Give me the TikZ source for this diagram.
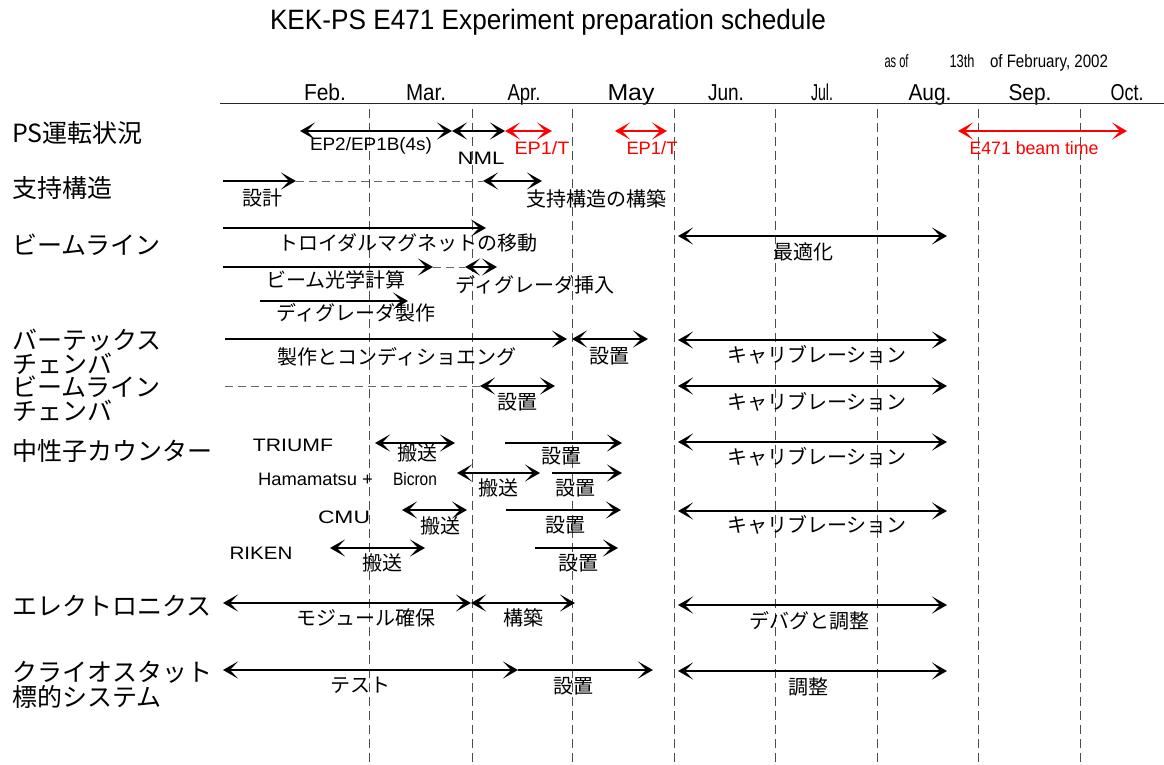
\documentclass[tikz,border=0pt]{standalone}
\usepackage{fontspec}
\setmainfont{Liberation Sans}
\newfontfamily\jpfont{Noto Sans CJK JP}
\usetikzlibrary{arrows.meta}
\newcommand\fitw[2]{\resizebox{#1pt}{\height}{#2}}
\newcommand\seg[5]{\coordinate (#1a) at (#2,#4); \coordinate (#1b) at (#3,#4); \draw[#5] (#1a) -- (#1b);}
\tikzset{
  >={Stealth[length=15pt,width=17pt,inset=8pt]},
  arr/.style={line width=2pt, ->},
  darr/.style={line width=2pt, <->},
  gdash/.style={draw=black!60, line width=1pt, dash pattern=on 8pt off 5pt},
  vline/.style={draw=black!70, line width=1pt, dash pattern=on 9pt off 5pt},
  jl/.style={font=\jpfont\fontsize{20}{22}\selectfont, inner sep=0pt},
  rowlbl/.style={font=\jpfont\fontsize{25}{27}\selectfont, inner sep=0pt, anchor=west},
  lt/.style={font=\fontsize{18}{20}\selectfont, inner sep=0pt},
  mon/.style={font=\fontsize{23}{25}\selectfont, inner sep=0pt, anchor=base},
  dt/.style={font=\fontsize{18}{20}\selectfont, inner sep=0pt, anchor=base},
}
\begin{document}
\begin{tikzpicture}[x=1pt,y=-1pt]
\useasboundingbox[fill=white] (0,0) rectangle (1164,765);
% title and date
\node[font=\fontsize{28}{30}\selectfont, inner sep=0pt] (title) at (548,22) {\fitw{556}{KEK-PS E471 Experiment preparation schedule}};
\node[dt] (asof1) at (896.5,68) {\fitw{24}{as of}};
\node[dt] (asof2) at (962,68) {\fitw{25}{13th}};
\node[dt] (asof3) at (1049,68) {\fitw{118}{of February, 2002}};
% months
\node[mon] (feb) at (325,101) {\fitw{42}{Feb.}};
\node[mon] (mar) at (426,101) {\fitw{40}{Mar.}};
\node[mon] (apr) at (524,101) {\fitw{33}{Apr.}};
\node[mon] (may) at (631,101) {\fitw{47}{May}};
\node[mon] (jun) at (726,101) {\fitw{36}{Jun.}};
\node[mon] (jul) at (822,101) {\fitw{22}{Jul.}};
\node[mon] (aug) at (930,101) {\fitw{43}{Aug.}};
\node[mon] (sep) at (1030,101) {\fitw{43}{Sep.}};
\node[mon] (oct) at (1127,101) {\fitw{33}{Oct.}};
% axis line
\coordinate (tl) at (220,103.5); \coordinate (tr) at (1164,103.5);
\draw[line width=1.8pt, black!85] (tl) -- (tr);
% month boundaries
\foreach \i/\x in {1/369,2/472,3/572,4/674,5/775,6/877,7/978,8/1080}{
  \coordinate (v\i t) at (\x,109); \coordinate (v\i b) at (\x,765);
  \draw[vline] (v\i t) -- (v\i b);
}
% row labels
\node[rowlbl] (r1) at (12,133) {PS運転状況};
\node[rowlbl] (r2) at (12,188) {支持構造};
\node[rowlbl] (r3) at (12,245) {ビームライン};
\node[rowlbl] (r4a) at (12,340) {バーテックス};
\node[rowlbl] (r4b) at (12,364) {チェンバ};
\node[rowlbl] (r5a) at (12,387) {ビームライン};
\node[rowlbl] (r5b) at (12,411) {チェンバ};
\node[rowlbl] (r6) at (12,451) {中性子カウンター};
\node[rowlbl] (r7) at (12,606) {エレクトロニクス};
\node[rowlbl] (r8a) at (12,672) {クライオスタット};
\node[rowlbl] (r8b) at (12,697) {標的システム};
% PS row
\seg{ps1}{300}{452}{131}{darr}
\seg{ps2}{452}{505}{131}{darr}
\seg{ps3}{505}{552}{131}{darr, red}
\seg{ps4}{615}{667}{131}{darr, red}
\seg{ps5}{958}{1127}{131}{darr, red}
\node[lt] (ep2) at (371,146) {\fitw{122}{EP2/EP1B(4s)}};
\node[lt] (nml) at (481,158) {\fitw{47}{NML}};
\node[lt, text=red] (ep1a) at (542,148) {\fitw{55}{EP1/T}};
\node[lt, text=red] (ep1b) at (652,148) {\fitw{51}{EP1/T}};
\node[lt, text=red] (bt) at (1034,148) {\fitw{129}{E471 beam time}};
% support structure
\seg{s1}{223}{296}{181}{arr}
\seg{s2}{296}{483}{181}{gdash}
\seg{s3}{483}{542}{181}{darr}
\node[jl] (sl1) at (262,198) {設計};
\node[jl] (sl2) at (596,199) {支持構造の構築};
% beamline
\seg{b1}{223}{486}{228}{arr}
\node[jl] (bl1) at (408,243) {トロイダルマグネットの移動};
\seg{b2}{223}{433}{267}{arr}
\seg{b3}{433}{465}{267}{gdash}
\seg{b4}{465}{497}{267}{darr}
\node[jl] (bl2) at (336,280) {ビーム光学計算};
\node[jl] (bl3) at (535,285) {ディグレーダ挿入};
\seg{b5}{260}{408}{301}{arr}
\node[jl] (bl4) at (356,313) {ディグレーダ製作};
\seg{b6}{678}{947}{236}{darr}
\node[jl] (bl5) at (803,252) {最適化};
% vertex chamber
\seg{v1}{225}{567}{339}{arr}
\node[jl] (vl1) at (397,357) {製作とコンディショエング};
\seg{v2}{572}{648}{339}{darr}
\node[jl] (vl2) at (609,356) {設置};
\seg{v3}{678}{947}{340}{darr}
\node[jl] (vl3) at (817,355) {キャリブレーション};
% beamline chamber
\seg{c1}{225}{480}{386}{gdash}
\seg{c2}{480}{555}{386}{darr}
\node[jl] (cl1) at (517,402) {設置};
\seg{c3}{678}{947}{386}{darr}
\node[jl] (cl2) at (817,402) {キャリブレーション};
% neutron counters
\node[lt] (triumf) at (293,445) {\fitw{80}{TRIUMF}};
\seg{n1}{375}{455}{443}{darr}
\node[jl] (nl1) at (417,453) {搬送};
\seg{n2}{505}{622}{443}{arr}
\node[jl] (nl2) at (561,456) {設置};
\seg{n3}{678}{947}{442}{darr}
\node[jl] (nl3) at (817,457) {キャリブレーション};
\node[lt] (hama) at (315.5,479) {\fitw{115}{Hamamatsu +}};
\node[lt] (bicron) at (415,479) {\fitw{44}{Bicron}};
\seg{n4}{457}{540}{473}{darr}
\node[jl] (nl4) at (498,488) {搬送};
\seg{n5}{552}{622}{473}{arr}
\node[jl] (nl5) at (575,488) {設置};
\node[lt] (cmu) at (344,517) {\fitw{52}{CMU}};
\seg{n6}{402}{467}{510}{darr}
\node[jl] (nl6) at (440,526) {搬送};
\seg{n7}{506}{621}{510}{arr}
\node[jl] (nl7) at (565,525) {設置};
\seg{n8}{678}{947}{511}{darr}
\node[jl] (nl8) at (817,525) {キャリブレーション};
\node[lt] (riken) at (261,553) {\fitw{63}{RIKEN}};
\seg{n9}{330}{425}{548}{darr}
\node[jl] (nl9) at (382,563) {搬送};
\seg{n10}{535}{618}{548}{arr}
\node[jl] (nl10) at (578,563) {設置};
% electronics
\seg{e1}{223}{471}{603}{darr}
\node[jl] (el1) at (366,618) {モジュール確保};
\seg{e2}{471}{575}{603}{darr}
\node[jl] (el2) at (523,618) {構築};
\seg{e3}{678}{947}{605}{darr}
\node[jl] (el3) at (809,621) {デバグと調整};
% cryostat target
\seg{k1}{223}{518}{670}{darr}
\node[jl] (kl1) at (360,685) {テスト};
\seg{k2}{518}{653}{670}{arr}
\node[jl] (kl2) at (573,686) {設置};
\seg{k3}{678}{947}{671}{darr}
\node[jl] (kl3) at (808,687) {調整};
\end{tikzpicture}
\end{document}
